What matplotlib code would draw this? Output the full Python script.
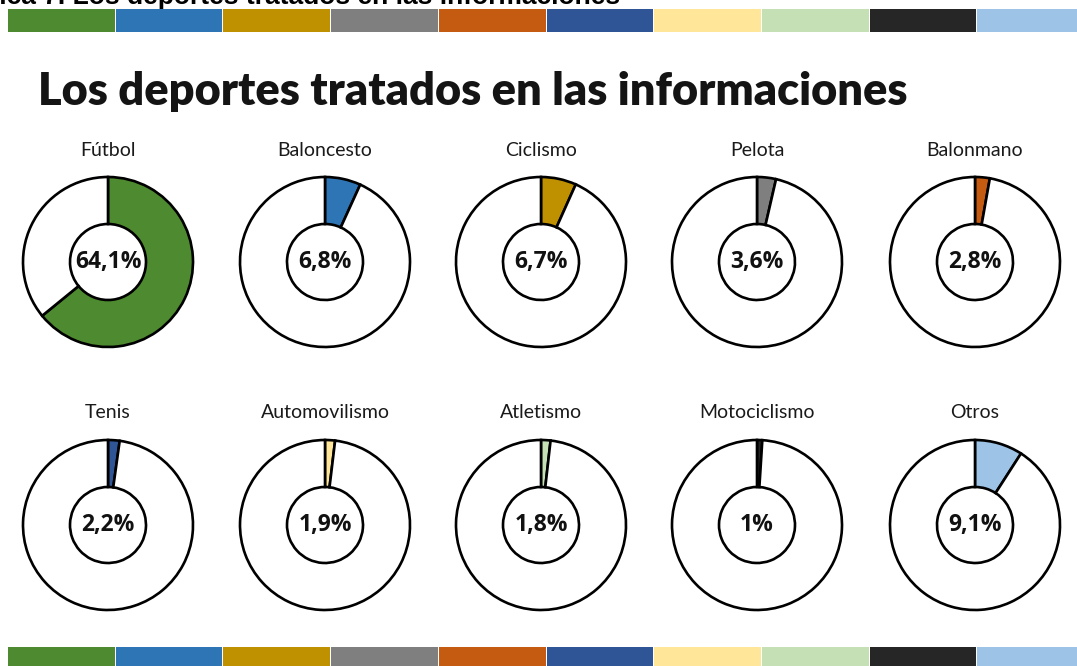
import numpy as np
import matplotlib.pyplot as plt
from matplotlib.patches import Rectangle

# data
sports = ['Fútbol', 'Baloncesto', 'Ciclismo', 'Pelota', 'Balonmano',
          'Tenis', 'Automovilismo', 'Atletismo', 'Motociclismo', 'Otros']
shares = [64.1, 6.8, 6.7, 3.6, 2.8, 2.2, 1.9, 1.8, 1.0, 9.1]
labels = ['64,1%', '6,8%', '6,7%', '3,6%', '2,8%', '2,2%', '1,9%', '1,8%', '1%', '9,1%']
colors = ['#4e8a2f', '#2e75b6', '#bf9000', '#7f7f7f', '#c55a11',
          '#2f5597', '#ffe699', '#c5e0b4', '#262626', '#9dc3e6']

W, H = 1077, 666
fig = plt.figure(figsize=(W / 100, H / 100), dpi=100)
ax = fig.add_axes([0, 0, 1, 1])

col_x = [108, 325, 541, 757, 975]
row_y = [H - 262, H - 525]
r_out, r_in = 85, 38

for i, (name, v, lab, c) in enumerate(zip(sports, shares, labels, colors)):
    cx = col_x[i % 5]
    cy = row_y[i // 5]
    ax.pie([v, 100 - v], colors=[c, 'white'], startangle=90, counterclock=False,
           center=(cx, cy), radius=r_out,
           wedgeprops=dict(width=r_out - r_in, edgecolor='black', linewidth=1.9))
    ax.text(cx, cy, lab, ha='center', va='center', fontsize=16.5, fontweight='bold',
            family='Open Sans', color='#111111')
    ax.text(cx, cy + r_out + 27, name, ha='center', va='center', fontsize=14,
            family='Lato', color='#1a1a1a')

# colour strips top and bottom
strip_x = np.linspace(8, 1085, 11)
for k, c in enumerate(colors):
    x0 = strip_x[k]
    w = strip_x[k + 1] - x0 - 1
    ax.add_patch(Rectangle((x0, H - 32), w, 23, facecolor=c, edgecolor='none'))
    ax.add_patch(Rectangle((x0, 0), w, 19, facecolor=c, edgecolor='none'))

ax.text(38, H - 92, 'Los deportes tratados en las informaciones', ha='left', va='center',
        fontsize=32.5, fontweight='heavy', family='Lato', color='#141414')
ax.text(620, H + 3, 'Gráfica 7. Los deportes tratados en las informaciones', ha='right',
        va='center', fontsize=19, fontweight='bold', family='Liberation Sans', color='black')

ax.set_xlim(0, W)
ax.set_ylim(0, H)
ax.set_aspect('equal')
ax.axis('off')
fig.savefig('out.png', dpi=100, facecolor='white')
